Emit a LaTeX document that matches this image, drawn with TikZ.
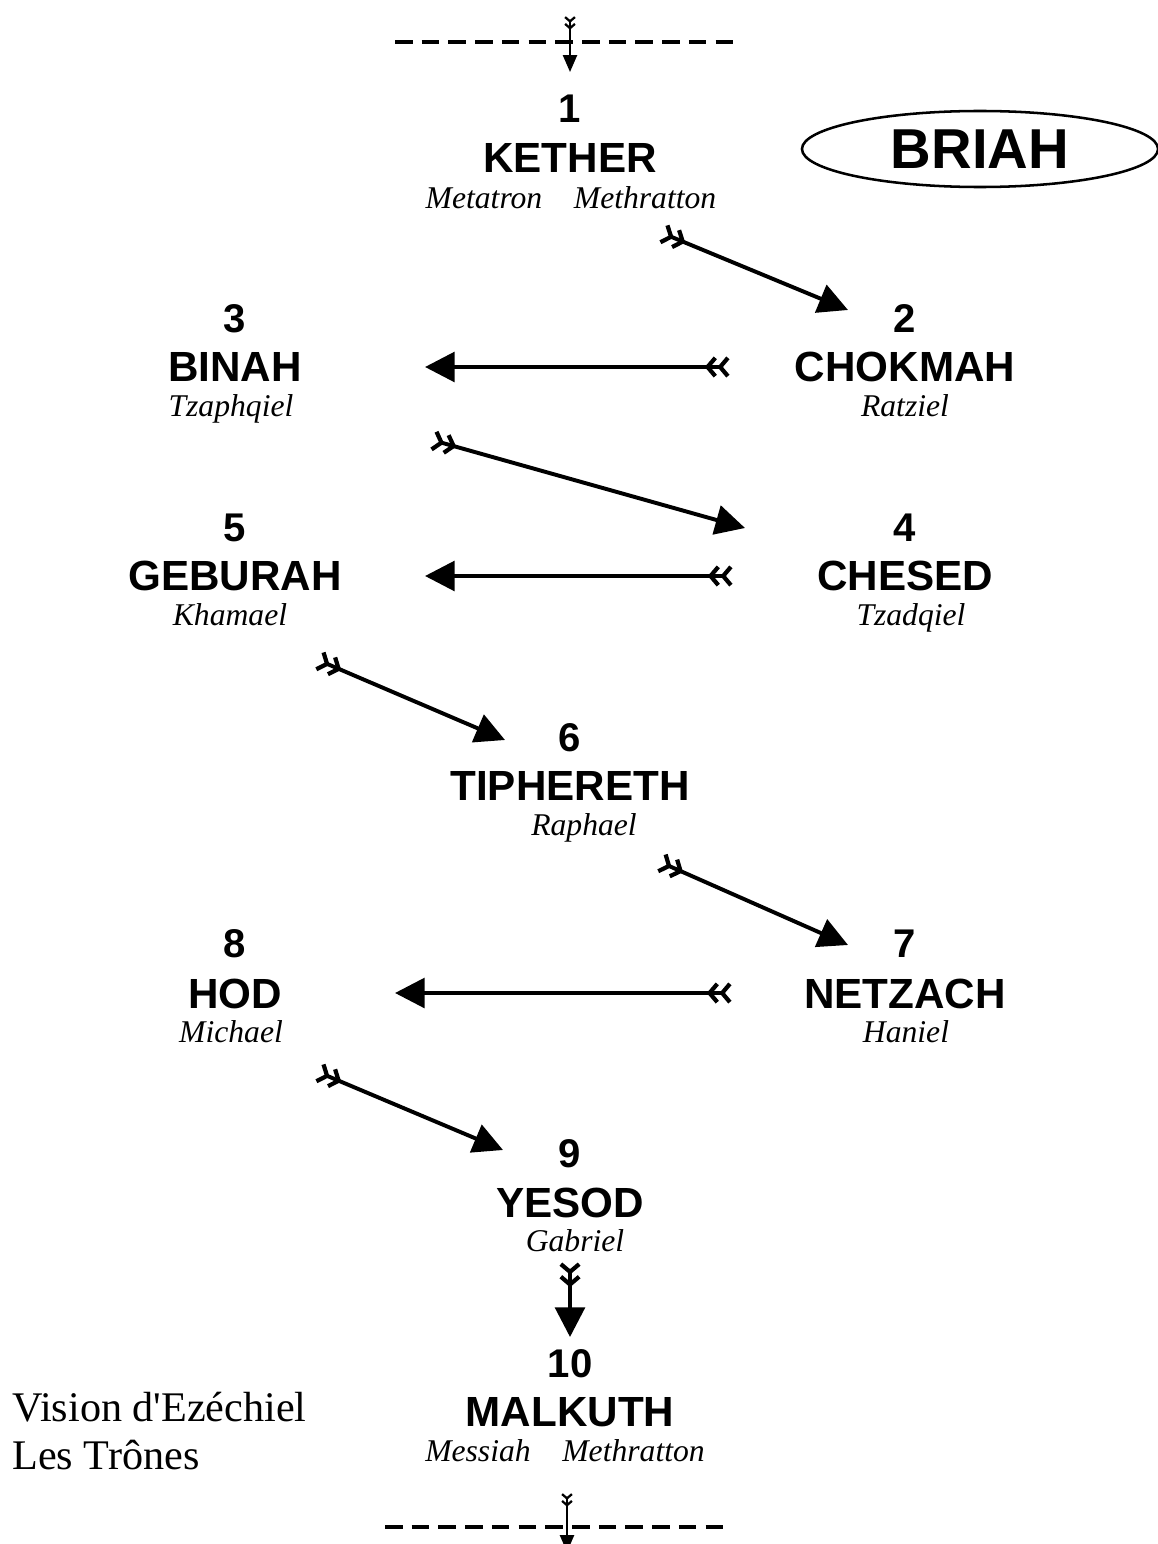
\documentclass[tikz,border=0pt]{standalone}
\usepackage{fontspec}
\setmainfont{Liberation Serif}
\setsansfont{Liberation Sans}
\usetikzlibrary{arrows.meta,shapes.geometric}
\tikzset{
	plume/.tip={Straight Barb[reversed,length=5.5pt,width=13pt,line width=3pt]},
	pointe/.tip={Triangle[length=21pt,width=21pt]},
	petiteplume/.tip={Straight Barb[reversed,length=3pt,width=7pt,line width=1.6pt]},
	petitepointe/.tip={Triangle[length=12pt,width=10pt]}
}
\begin{document}
\begin{tikzpicture}[x=0.025cm,y=-0.025cm,
	num/.style={anchor=base,inner sep=0pt,font=\fontsize{28.5}{30}\selectfont\sffamily\bfseries},
	nom/.style={anchor=base,inner sep=0pt,font=\fontsize{30}{32}\selectfont\sffamily\bfseries},
	ange/.style={anchor=base,inner sep=0pt,font=\fontsize{22.5}{24}\selectfont\itshape},
	fleche/.style={line width=2.8pt,{plume[]plume[]}-{pointe[]}},
	petitefleche/.style={line width=1.4pt,{petiteplume[]petiteplume[]}-{petitepointe[]}},
	tirets/.style={line width=2.2pt,dash pattern=on 12.5pt off 6.5pt}]
			\useasboundingbox (0,0) rectangle (1157,1544);
			\draw[tirets] (395,42) -- (740,42);
			\draw[tirets] (385,1527) -- (730,1527);
			\coordinate (entree) at (570,16);
			\coordinate (sortie) at (567,1552);
			\node[draw,ellipse,line width=1.8pt,minimum width=8.9cm,minimum height=1.9cm,inner sep=0pt,font=\fontsize{40}{42}\selectfont\sffamily\bfseries] (briah) at (980,149) {BRIAH};
			\node[num] (n1) at (570,123) {1};
			\node[nom] (kether) at (570,173) {KETHER};
			\node[ange] (a1) at (571,208) {Metatron\quad Methratton};
			\node[num] (n2) at (905,332) {2};
			\node[nom] (chokmah) at (905,381) {CHOKMAH};
			\node[ange] (a2) at (905,416) {Ratziel};
			\node[num] (n3) at (235,332) {3};
			\node[nom] (binah) at (235,381) {BINAH};
			\node[ange] (a3) at (231,416) {Tzaphqiel};
			\node[num] (n4) at (905,541) {4};
			\node[nom] (chesed) at (905,590) {CHESED};
			\node[ange] (a4) at (911,625) {Tzadqiel};
			\node[num] (n5) at (235,541) {5};
			\node[nom] (geburah) at (235,590) {GEBURAH};
			\node[ange] (a5) at (230,625) {Khamael};
			\node[num] (n6) at (570,751) {6};
			\node[nom] (tiphereth) at (570,800) {TIPHERETH};
			\node[ange] (a6) at (584,835) {Raphael};
			\node[num] (n7) at (905,957) {7};
			\node[nom] (netzach) at (905,1008) {NETZACH};
			\node[ange] (a7) at (906,1042) {Haniel};
			\node[num] (n8) at (235,957) {8};
			\node[nom] (hod) at (235,1008) {HOD};
			\node[ange] (a8) at (231,1042) {Michael};
			\node[num] (n9) at (570,1167) {9};
			\node[nom] (yesod) at (570,1217) {YESOD};
			\node[ange] (a9) at (575,1251) {Gabriel};
			\node[num] (n10) at (570,1377) {10};
			\node[nom] (malkuth) at (570,1426) {MALKUTH};
			\node[ange] (a10) at (565,1461) {Messiah\quad Methratton};
			\node[anchor=north west,align=left,inner sep=0pt,font=\fontsize{30}{34.1}\selectfont] (vision) at (12,1392) {Vision d\textquotesingle Ezéchiel\\Les Trônes};
			\draw[petitefleche] (entree) -- ([shift={(0,-51)}]n1.base);
			\draw[fleche] ([shift={(92,60)}]kether.base) -- ([shift={(-57,-71)}]chokmah.base);
			\draw[fleche] ([shift={(-175,-14)}]chokmah.base) -- ([shift={(190,-14)}]binah.base);
			\draw[fleche] ([shift={(197,59)}]binah.base) -- ([shift={(-160,-62)}]chesed.base);
			\draw[fleche] ([shift={(-172,-14)}]chesed.base) -- ([shift={(190,-14)}]geburah.base);
			\draw[fleche] ([shift={(83,70)}]geburah.base) -- ([shift={(-65,-60)}]tiphereth.base);
			\draw[fleche] ([shift={(90,62)}]tiphereth.base) -- ([shift={(-57,-63)}]netzach.base);
			\draw[fleche] ([shift={(-173,-15)}]netzach.base) -- ([shift={(160,-15)}]hod.base);
			\draw[fleche] ([shift={(83,64)}]hod.base) -- ([shift={(-67,-67)}]yesod.base);
			\draw[fleche] ([shift={(0,45)}]yesod.base) -- ([shift={(0,-89)}]malkuth.base);
			\draw[petitefleche] ([shift={(2,32)}]a10.base) -- (sortie);
	\end{tikzpicture}
\end{document}
